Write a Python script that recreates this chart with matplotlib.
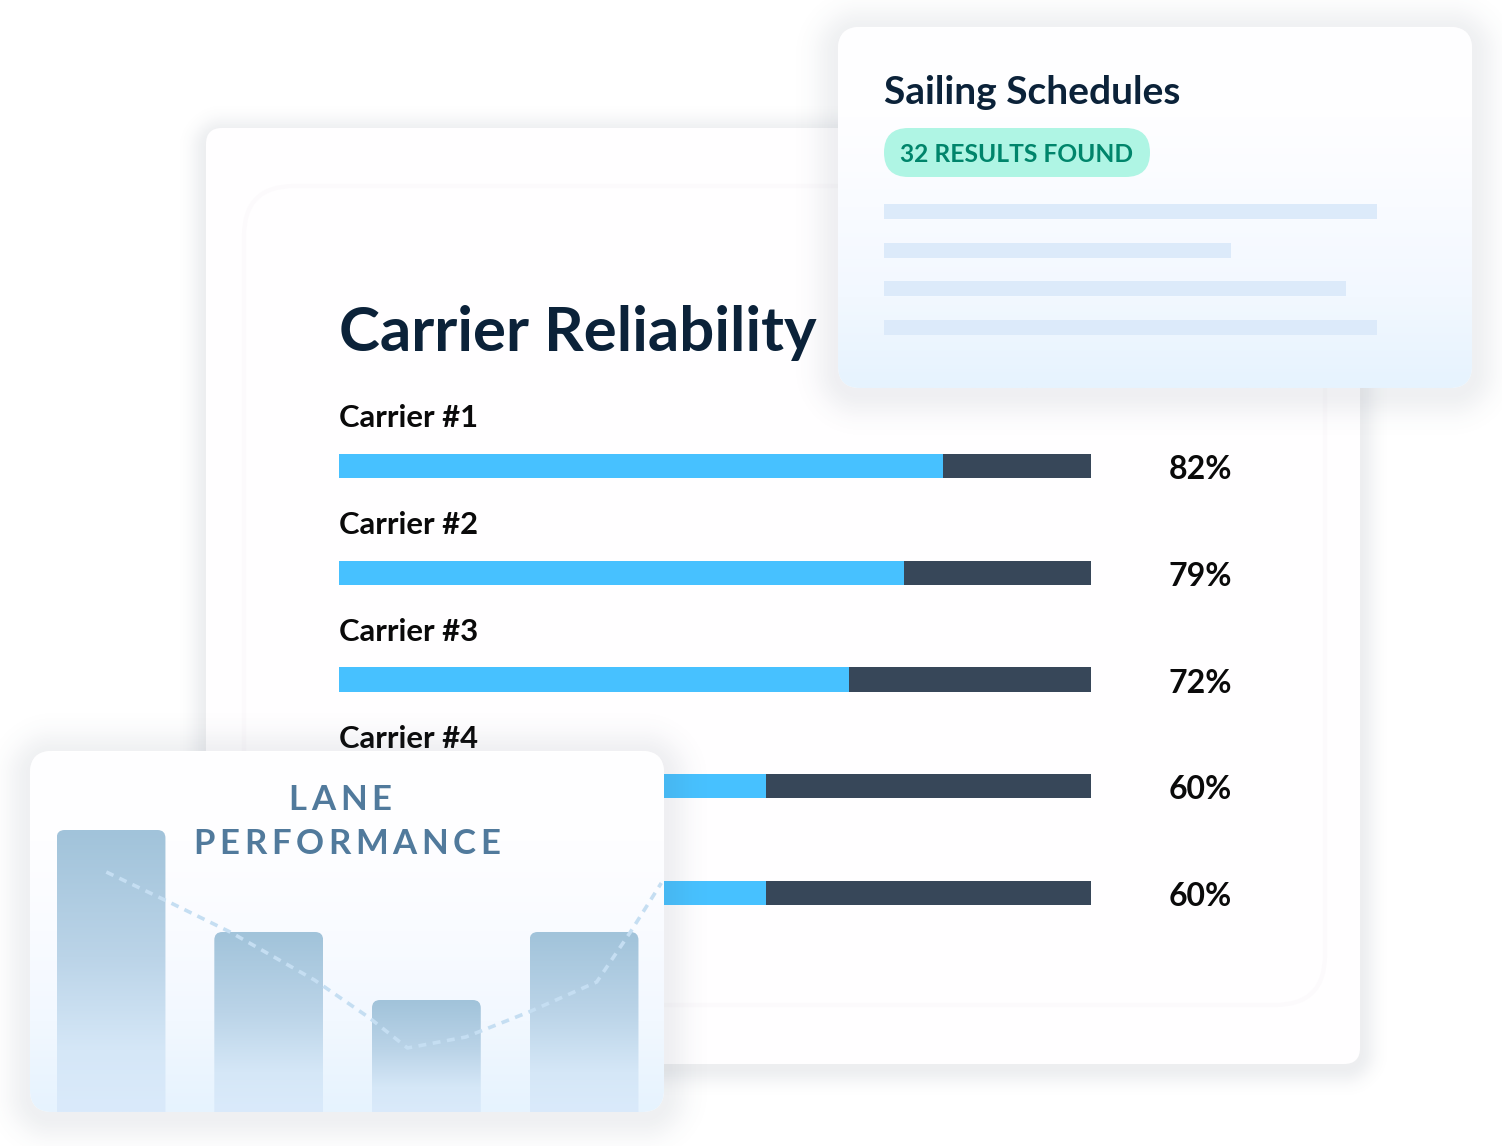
import numpy as np
import matplotlib
matplotlib.use("Agg")
import matplotlib.pyplot as plt
from matplotlib.colors import LinearSegmentedColormap
from matplotlib.patches import FancyBboxPatch
from matplotlib.transforms import IdentityTransform

W, H = 1502, 1146

# Carrier #5's label sits under the lane card in the picture, so only four are drawn
carriers = ["Carrier #1", "Carrier #2", "Carrier #3", "Carrier #4"]
reliability_labels = ["82%", "79%", "72%", "60%", "60%"]
bar_fill = [80.3, 75.1, 67.8, 56.8, 56.8]

schedule_title = "Sailing Schedules"
schedule_badge = "32 RESULTS FOUND"
schedule_lines = [100, 70.4, 93.7, 100]

lane_title = ["LANE", "PERFORMANCE"]
lane_bars = [282, 180, 112, 180]
trend_x = [-0.03, 0.38, 0.755, 1.29, 1.64, 1.88, 2.25, 2.65, 3.08, 3.29, 3.49]
trend_y = [240, 209, 180, 132, 94, 64, 75, 100, 130, 179, 229]

NAVY = "#0B2239"
BLUE = "#47C1FF"
SLATE = "#374759"
FONT = "Lato"

plt.rcParams["font.family"] = [FONT, "DejaVu Sans"]

fig = plt.figure(figsize=(W / 100, H / 100), dpi=100, facecolor="white")


def px_axes(x0, y0, x1, y1, z):
    a = fig.add_axes([x0 / W, 1 - y1 / H, (x1 - x0) / W, (y1 - y0) / H], zorder=z)
    a.axis("off")
    a.patch.set_alpha(0)
    return a


def card_patch(ax, x0, y0, x1, y1, r, **kw):
    p = FancyBboxPatch((x0 + r, y0 + r), x1 - x0 - 2 * r, y1 - y0 - 2 * r,
                       boxstyle=f"round,pad={r},rounding_size={r}", **kw)
    ax.add_patch(p)
    return p


def shadow(ax, x0, y0, x1, y1, r, alpha, spread, dy=4):
    # soft shadow from the distance to a rounded box
    m = int(spread * 3)
    xs = np.arange(x0 - m, x1 + m)
    ys = np.arange(y0 - m, y1 + m)
    xx, yy = np.meshgrid(xs, ys)
    cx, cy = (x0 + x1) / 2, (y0 + y1) / 2 + dy
    qx = np.abs(xx - cx) - (x1 - x0) / 2 + r
    qy = np.abs(yy - cy) - (y1 - y0) / 2 + r
    d = np.hypot(np.maximum(qx, 0), np.maximum(qy, 0)) + np.minimum(np.maximum(qx, qy), 0) - r
    a = alpha * np.exp(-(np.maximum(d, 0) / spread) ** 2)
    img = np.zeros(a.shape + (4,))
    img[..., :3] = (0.30, 0.36, 0.44)
    img[..., 3] = a
    ax.imshow(img, extent=(xs[0], xs[-1] + 1, ys[-1] + 1, ys[0]), aspect="auto", zorder=1)


def gradient_card(ax, x0, y0, x1, y1, r, z=3):
    cm = LinearSegmentedColormap.from_list("card", [(0, "#FFFFFF"), (0.25, "#FEFEFF"), (0.5, "#F9FBFF"),
                                                    (0.75, "#F2F8FF"), (1, "#E6F3FE")])
    clip = card_patch(ax, x0, y0, x1, y1, r, fc="white", ec="none", zorder=z)
    g = np.linspace(0, 1, 256).reshape(-1, 1)
    im = ax.imshow(g, cmap=cm, extent=(x0, x1, y1, y0), aspect="auto", zorder=z + 0.1)
    im.set_clip_path(clip)
    return clip


def spaced_text(ax, cx, cy, s, size, spacing, **kw):
    # matplotlib has no letter spacing, so the letters go one by one
    r = fig.canvas.get_renderer()
    def width(t):
        tmp = ax.text(0, 0, t, fontsize=size, **kw)
        w = tmp.get_window_extent(r).width
        tmp.remove()
        return w
    total = width(s) + spacing * (len(s) - 1)
    x = cx - total / 2
    for i, ch in enumerate(s):
        ax.text(x + width(s[:i]) + spacing * i, cy, ch, fontsize=size, va="center", ha="left", **kw)


# back card
ax_bg = px_axes(0, 0, W, H, 0)
shadow(ax_bg, 206, 128, 1360, 1064, 16, 0.10, 15)
card_patch(ax_bg, 206, 128, 1360, 1064, 16, fc="#FFFEFF", ec="none", zorder=2)
card_patch(ax_bg, 244, 186, 1325, 1005, 50, fc="#FFFEFF", ec="#FCFAFC", lw=3, zorder=3)
ax_bg.text(339, 333, "Carrier Reliability", fontsize=44.5, fontweight="bold", color=NAVY,
           va="center", ha="left", zorder=4)
ax_bg.set_xlim(0, W)
ax_bg.set_ylim(H, 0)

# carrier bars
ax_bars = px_axes(339, 412.6, 1091, 946.4, 1)
rows = np.arange(len(bar_fill))
ax_bars.barh(rows, bar_fill, height=0.225, color=BLUE)
ax_bars.barh(rows, 100 - np.array(bar_fill), left=bar_fill, height=0.225, color=SLATE)
for i, name in enumerate(carriers):
    ax_bars.text(0, i - 0.445, name, fontsize=22.3, fontweight="bold", color="#0A0A0A", va="center", ha="left")
for i, label in enumerate(reliability_labels):
    ax_bars.text(110.3, i + 0.035, label, fontsize=23, fontweight="bold", color="#0A0A0A",
                 va="center", ha="left")
ax_bars.set_xlim(0, 100)
ax_bars.set_ylim(4.5, -0.5)

# front cards
ax_top = px_axes(0, 0, W, H, 2)
shadow(ax_top, 838, 27, 1472, 388, 22, 0.09, 24)
gradient_card(ax_top, 838, 27, 1472, 388, 22)
shadow(ax_top, 30, 751, 664, 1112, 22, 0.09, 24)
gradient_card(ax_top, 30, 751, 664, 1112, 22)
ax_top.text(884, 93, schedule_title, fontsize=28, fontweight="bold", color=NAVY, va="center", ha="left", zorder=5)
card_patch(ax_top, 884, 128, 1150, 177, 24.5, fc="#AFF5E4", ec="none", zorder=5)
ax_top.text(1016, 155, schedule_badge, fontsize=17.7, fontweight="bold", color="#00856B", va="center", ha="center", zorder=6)
ax_top.set_xlim(0, W)
ax_top.set_ylim(H, 0)
spaced_text(ax_top, 340, 800, lane_title[0], 25, 4.8, color="#517A9C", zorder=6, fontweight="bold")
spaced_text(ax_top, 347, 844, lane_title[1], 25, 4.6, color="#517A9C", zorder=6, fontweight="bold")

# placeholder lines in the schedule card
ax_lines = px_axes(884, 192, 1377, 347, 3)
ax_lines.barh(np.arange(len(schedule_lines)), schedule_lines, height=0.39, color="#DCEAFA")
ax_lines.set_xlim(0, 100)
ax_lines.set_ylim(3.5, -0.5)

# lane bars with gradient fill
ax_lane = px_axes(30, 751, 664, 1112, 3)
ax_lane.set_xlim(-0.514, 3.507)
ax_lane.set_ylim(0, 361)
bars = ax_lane.bar(np.arange(len(lane_bars)), lane_bars, width=0.69, color="none")
bar_cm = LinearSegmentedColormap.from_list("bar", [(0, "#A1C3DA"), (0.45, "#BBD4E8"), (0.78, "#D5E7F7"), (1, "#DAEAFB")])
fig.canvas.draw()
for b in bars:
    bb = b.get_window_extent()
    clip = FancyBboxPatch((bb.x0 + 8, bb.y0 - 30), bb.width - 16, bb.height + 22,
                          boxstyle="round,pad=8,rounding_size=8", transform=IdentityTransform(), fc="none", ec="none")
    g = np.linspace(0, 1, 256).reshape(-1, 1)
    im = ax_lane.imshow(g, cmap=bar_cm, aspect="auto", zorder=2,
                        extent=(b.get_x(), b.get_x() + b.get_width(), 0, b.get_height()))
    im.set_clip_path(clip)
ax_lane.plot(trend_x, trend_y, color="#C5DEF2", lw=2.6, dashes=(2.2, 1.8), zorder=3)
ax_lane.set_xlim(-0.514, 3.507)
ax_lane.set_ylim(0, 361)

fig.savefig("out.png", dpi=100)
